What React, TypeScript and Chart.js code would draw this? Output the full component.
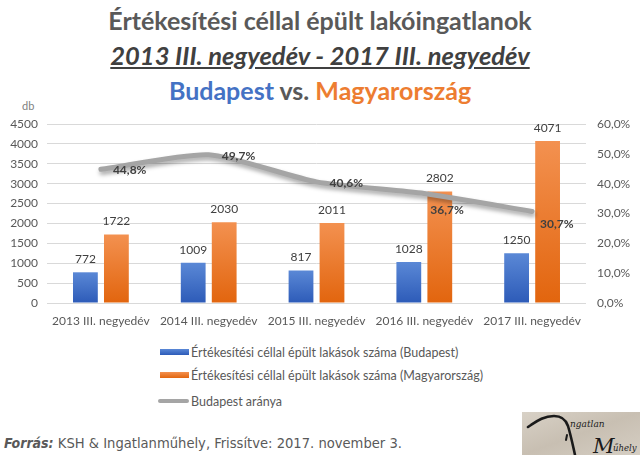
import React, { useEffect, useRef } from "react";
import { Chart, registerables } from "chart.js";

Chart.register(...registerables);

const categories = [
  "2013 III. negyedév",
  "2014 III. negyedév",
  "2015 III. negyedév",
  "2016 III. negyedév",
  "2017 III. negyedév",
];
const budapestCount = [772, 1009, 817, 1028, 1250];
const hungaryCount = [1722, 2030, 2011, 2802, 4071];
const budapestShare = [44.8, 49.7, 40.6, 36.7, 30.7];

const leftMax = 4500;
const leftStep = 500;
const rightMax = 60;
const rightStep = 10;

const seriesNames = [
  "Értékesítési céllal épült lakások száma (Budapest)",
  "Értékesítési céllal épült lakások száma (Magyarország)",
  "Budapest aránya",
];

// label offsets for the share labels (dx, dy) relative to the point
const shareLabelOffsets: [number, number][] = [
  [12, 1],
  [13, 1],
  [13, 1],
  [6, 17],
  [8, 13],
];

const FONT = "Lato, 'Open Sans', sans-serif";
const TEXT = "#595959";

function fmtPct(v: number) {
  return v.toFixed(1).replace(".", ",") + "%";
}

function barGradient(top: string, bottom: string) {
  return (context: any) => {
    const chart = context.chart;
    const { ctx, chartArea, scales } = chart;
    if (!chartArea || context.type !== "data") return bottom;
    const v = context.raw as number;
    const y0 = scales.y.getPixelForValue(v);
    const y1 = scales.y.getPixelForValue(0);
    if (!isFinite(y0) || !isFinite(y1) || y0 === y1) return bottom;
    const g = ctx.createLinearGradient(0, y0, 0, y1);
    g.addColorStop(0, top);
    g.addColorStop(1, bottom);
    return g;
  };
}

const labelsPlugin = {
  id: "valueLabels",
  beforeDatasetDraw(chart: any, args: any) {
    if (args.index === 2) {
      const ctx = chart.ctx;
      ctx.save();
      ctx.shadowColor = "rgba(0,0,0,0.35)";
      ctx.shadowBlur = 4;
      ctx.shadowOffsetX = 1;
      ctx.shadowOffsetY = 3;
    }
  },
  afterDatasetDraw(chart: any, args: any) {
    if (args.index === 2) chart.ctx.restore();
  },
  afterDatasetsDraw(chart: any) {
    const ctx = chart.ctx;
    ctx.save();
    [0, 1].forEach((di) => {
      const meta = chart.getDatasetMeta(di);
      const data = chart.data.datasets[di].data as number[];
      ctx.font = `12px ${FONT}`;
      ctx.fillStyle = "#404040";
      ctx.textAlign = "center";
      ctx.textBaseline = "middle";
      meta.data.forEach((el: any, i: number) => {
        ctx.fillText(String(data[i]), el.x, el.y - 13);
      });
    });
    const lm = chart.getDatasetMeta(2);
    ctx.font = `bold 12px ${FONT}`;
    ctx.fillStyle = "#404040";
    ctx.textAlign = "left";
    ctx.textBaseline = "middle";
    lm.data.forEach((el: any, i: number) => {
      const [dx, dy] = shareLabelOffsets[i];
      ctx.fillText(fmtPct(budapestShare[i]), el.x + dx, el.y + dy);
    });
    ctx.restore();
  },
};

function ChartCanvas() {
  const ref = useRef<HTMLCanvasElement | null>(null);
  useEffect(() => {
    if (!ref.current) return;
    const chart = new Chart(ref.current, {
      type: "bar",
      data: {
        labels: categories,
        datasets: [
          {
            type: "bar",
            label: seriesNames[0],
            data: budapestCount,
            backgroundColor: barGradient("#5A88D6", "#2D5BB8"),
            yAxisID: "y",
            order: 1,
            categoryPercentage: 0.575,
            barPercentage: 0.8,
          },
          {
            type: "bar",
            label: seriesNames[1],
            data: hungaryCount,
            backgroundColor: barGradient("#F39150", "#E2650E"),
            yAxisID: "y",
            order: 1,
            categoryPercentage: 0.575,
            barPercentage: 0.8,
          },
          {
            type: "line",
            label: seriesNames[2],
            data: budapestShare,
            borderColor: "#A5A5A5",
            borderWidth: 5,
            tension: 0.22,
            pointRadius: 0,
            fill: false,
            yAxisID: "y1",
            order: 0,
            borderCapStyle: "round",
          } as any,
        ],
      },
      options: {
        responsive: false,
        animation: false,
        layout: { padding: { top: 24, left: 0, right: 0, bottom: 0 } },
        plugins: {
          legend: { display: false },
          tooltip: { enabled: false },
          title: { display: false },
        },
        scales: {
          x: {
            grid: { display: false, drawTicks: false },
            border: { display: false },
            ticks: {
              color: TEXT,
              font: { family: FONT, size: 12 },
              padding: 11,
              maxRotation: 0,
              autoSkip: false,
            },
            afterFit: (s: any) => {
              s.height = 29;
            },
          },
          y: {
            position: "left",
            min: 0,
            max: leftMax,
            grid: { color: "#D9D9D9", drawTicks: false },
            border: { display: false },
            ticks: {
              stepSize: leftStep,
              color: TEXT,
              font: { family: FONT, size: 12 },
              padding: 9,
              callback: (v: any) => String(v),
            },
            afterFit: (s: any) => {
              s.width = 47;
            },
          },
          y1: {
            position: "right",
            min: 0,
            max: rightMax,
            grid: { display: false, drawTicks: false },
            border: { display: false },
            ticks: {
              stepSize: rightStep,
              color: TEXT,
              font: { family: FONT, size: 12 },
              padding: 11,
              callback: (v: any) => fmtPct(Number(v)),
            },
            afterFit: (s: any) => {
              s.width = 54;
            },
          },
        },
      },
      plugins: [labelsPlugin],
    });
    return () => chart.destroy();
  }, []);
  return (
    <canvas
      ref={ref}
      width={640}
      height={232}
      style={{ position: "absolute", left: 0, top: 100, width: 640, height: 232 }}
    />
  );
}

function LegendRow({ kind, color, text, top }: { kind: string; color: string; text: string; top: number }) {
  return (
    <div style={{ position: "absolute", left: 158, top, height: 14, display: "flex", alignItems: "center" }}>
      {kind === "bar" ? (
        <div style={{ width: 29, height: 6, marginLeft: 2, background: color, marginRight: 2 }} />
      ) : (
        <div style={{ width: 31, height: 4, background: color, borderRadius: 2, marginRight: 2 }} />
      )}
      <span style={{ font: `12.5px ${FONT}`, color: TEXT, whiteSpace: "nowrap" }}>{text}</span>
    </div>
  );
}

function Logo() {
  return (
    <svg
      width={118}
      height={43}
      style={{ position: "absolute", left: 522, top: 412 }}
      viewBox="0 0 118 43"
    >
      <defs>
        <linearGradient id="paper" x1="0" y1="0" x2="1" y2="1">
          <stop offset="0" stopColor="#d8d1c6" />
          <stop offset="0.5" stopColor="#c8bfb2" />
          <stop offset="1" stopColor="#d5cec3" />
        </linearGradient>
      </defs>
      <rect x={0} y={0} width={118} height={43} fill="url(#paper)" />
      <path
        d="M6 15 L 9 13 C 15 9, 22 4, 32 4 C 40 4, 44 8, 46 14 C 49 24, 51 34, 53 43"
        fill="none"
        stroke="#1a1a1a"
        strokeWidth={2.6}
        strokeLinecap="round"
      />
      <path d="M45 23 L 44 28" stroke="#1a1a1a" strokeWidth={2} strokeLinecap="round" />
      <text x={48} y={15} fontFamily="'DejaVu Serif', serif" fontStyle="italic" fontSize={9} fill="#222">
        ngatlan
      </text>
      <text x={71} y={41} fontFamily="'DejaVu Serif', serif" fontStyle="italic" fontSize={21} fill="#1a1a1a">
        M
      </text>
      <text x={91} y={39} fontFamily="'DejaVu Serif', serif" fontStyle="italic" fontSize={8.5} fill="#222">
        űhely
      </text>
    </svg>
  );
}

export default function App() {
  return (
    <div
      style={{
        position: "absolute",
        left: 0,
        top: 0,
        width: 640,
        height: 455,
        background: "#fff",
        overflow: "hidden",
        fontFamily: FONT,
      }}
    >
      <div
        style={{
          position: "absolute",
          top: 5,
          width: 640,
          textAlign: "center",
          font: `bold 25px ${FONT}`,
          color: TEXT,
          lineHeight: "30px",
        }}
      >
        Értékesítési céllal épült lakóingatlanok
      </div>
      <div
        style={{
          position: "absolute",
          top: 40,
          width: 640,
          textAlign: "center",
          font: `italic bold 25.5px ${FONT}`,
          color: "#404040",
          lineHeight: "30px",
        }}
      >
        <span style={{ textDecoration: "underline" }}>2013 III. negyedév - 2017 III. negyedév</span>
      </div>
      <div
        style={{
          position: "absolute",
          top: 75,
          width: 640,
          textAlign: "center",
          font: `bold 25px ${FONT}`,
          color: TEXT,
          lineHeight: "30px",
        }}
      >
        <span style={{ color: "#4472C4" }}>Budapest</span> vs.{" "}
        <span style={{ color: "#ED7D31" }}>Magyarország</span>
      </div>
      <div style={{ position: "absolute", left: 22, top: 99, font: `11px ${FONT}`, color: "#7F7F7F" }}>db</div>
      <ChartCanvas />
      <LegendRow kind="bar" color="linear-gradient(#5A88D6,#2D5BB8)" text={seriesNames[0]} top={345} />
      <LegendRow kind="bar" color="linear-gradient(#F39150,#E2650E)" text={seriesNames[1]} top={368} />
      <LegendRow kind="line" color="#A5A5A5" text={seriesNames[2]} top={394} />
      <div
        style={{
          position: "absolute",
          left: 4,
          top: 433,
          whiteSpace: "nowrap",
          color: TEXT,
          lineHeight: "18px",
        }}
      >
        <span style={{ font: "italic bold 14px 'DejaVu Sans Condensed', 'DejaVu Sans', sans-serif" }}>Forrás:</span>
        <span style={{ font: "14.6px 'DejaVu Sans Condensed', 'DejaVu Sans', sans-serif" }}>
          {" "}KSH &amp; Ingatlanműhely, Frissítve: 2017. november 3.
        </span>
      </div>
      <Logo />
    </div>
  );
}
